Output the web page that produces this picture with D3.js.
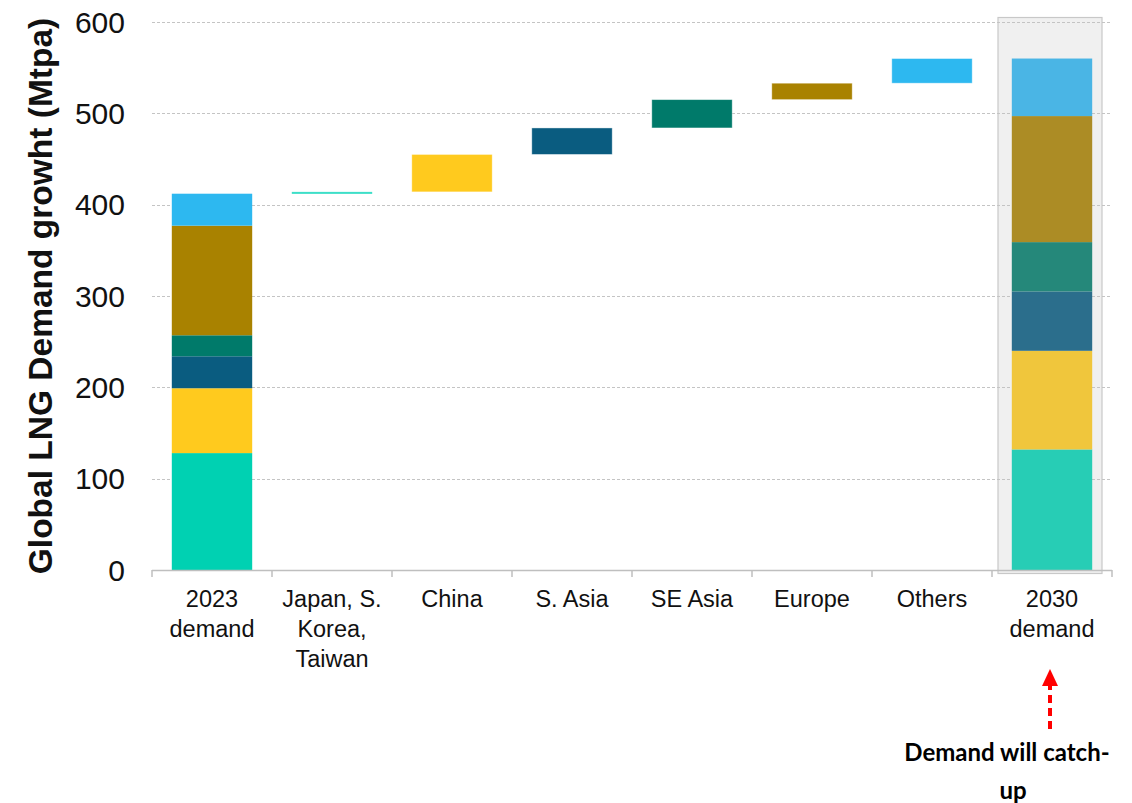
<!DOCTYPE html>
<html>
<head>
<meta charset="utf-8">
<script src="https://cdn.jsdelivr.net/npm/d3@7"></script>
<style>
  html, body { margin: 0; padding: 0; background: #ffffff; }
  svg { display: block; }
</style>
</head>
<body>
<svg id="chart" width="1132" height="803"></svg>
<script>
// Categories along the x axis (multi-line labels split on "\n")
const categories = ["2023\ndemand", "Japan, S.\nKorea,\nTaiwan", "China", "S. Asia", "SE Asia", "Europe", "Others", "2030\ndemand"];
// Regions that make up each stacked demand column, bottom to top
const regions = ["Japan, S. Korea, Taiwan", "China", "S. Asia", "SE Asia", "Europe", "Others"];
// 2023 demand by region (Mtpa)
const demand2023 = [128, 71, 35, 23, 120, 35];
// Growth 2023 -> 2030 by region (Mtpa)
const growth = [2, 41, 29, 31, 18, 27];
// 2030 demand by region (Mtpa)
const demand2030 = [132, 108, 65, 54, 138, 63];
// Y axis ticks
const yTicks = [0, 100, 200, 300, 400, 500, 600];

const colors2023 = ["#00d1b2", "#ffca1e", "#0a5c80", "#007a6a", "#a98200", "#2db8f0"];
const colors2030 = ["#27cdb5", "#f0c63c", "#2b6e8c", "#25887a", "#ac8c25", "#4ab5e5"];

const svg = d3.select("#chart");

const x = d3.scaleBand()
  .domain(categories)
  .range([152, 1112])
  .paddingInner(0.33)
  .paddingOuter(0.165);

const y = d3.scaleLinear().domain([0, 600]).range([570, 22]);

// Highlight panel behind the 2030 column
const last = categories[categories.length - 1];
const cx2030 = x(last) + x.bandwidth() / 2;
svg.append("rect")
  .attr("x", cx2030 - 54)
  .attr("y", 17.5)
  .attr("width", 104)
  .attr("height", 556)
  .attr("fill", "#f0f0f0")
  .attr("stroke", "#c8c8c8")
  .attr("stroke-width", 1.2);

// Horizontal gridlines
svg.append("g")
  .selectAll("line")
  .data(yTicks.filter(d => d > 0))
  .join("line")
  .attr("x1", 152)
  .attr("x2", 1112)
  .attr("y1", d => Math.round(y(d)) + 0.5)
  .attr("y2", d => Math.round(y(d)) + 0.5)
  .attr("stroke", "#c4c4c4")
  .attr("stroke-width", 1)
  .attr("stroke-dasharray", "3,2");

// Stack helper: cumulative segments
function stackSegments(values) {
  let acc = 0;
  return values.map((v, i) => {
    const s = { i, y0: acc, y1: acc + v };
    acc += v;
    return s;
  });
}

// 2023 stacked column
svg.append("g")
  .selectAll("rect")
  .data(stackSegments(demand2023))
  .join("rect")
  .attr("x", x(categories[0]))
  .attr("width", x.bandwidth())
  .attr("y", d => y(d.y1))
  .attr("height", d => y(d.y0) - y(d.y1))
  .attr("fill", d => colors2023[d.i]);

// Floating growth bars (waterfall)
const start2023 = d3.sum(demand2023);
let running = start2023;
const steps = growth.map((g, i) => {
  const s = { i, cat: categories[i + 1], y0: running, y1: running + g };
  running += g;
  return s;
});
svg.append("g")
  .selectAll("rect")
  .data(steps)
  .join("rect")
  .attr("x", d => x(d.cat))
  .attr("width", x.bandwidth())
  .attr("y", d => y(d.y1))
  .attr("height", d => Math.max(2, y(d.y0) - y(d.y1)))
  .attr("fill", d => d.i === 0 ? "#3ddfc8" : colors2023[d.i])
  .attr("stroke", d => d.i === 0 ? "none" : "rgba(255,255,255,0.5)")
  .attr("stroke-width", 0.8);

// 2030 stacked column
svg.append("g")
  .selectAll("rect")
  .data(stackSegments(demand2030))
  .join("rect")
  .attr("x", x(last))
  .attr("width", x.bandwidth())
  .attr("y", d => y(d.y1))
  .attr("height", d => y(d.y0) - y(d.y1))
  .attr("fill", d => colors2030[d.i]);

// X axis line with ticks at band boundaries
const axisG = svg.append("g");
axisG.append("line")
  .attr("x1", 152).attr("x2", 1112)
  .attr("y1", 570.5).attr("y2", 570.5)
  .attr("stroke", "#bfbfbf").attr("stroke-width", 1.5);
const boundaries = categories.map(c => x(c) - x.step() * x.paddingInner() / 2).concat([1112]);
boundaries[0] = 152;
axisG.selectAll("line.tick")
  .data(boundaries)
  .join("line")
  .attr("class", "tick")
  .attr("x1", d => d).attr("x2", d => d)
  .attr("y1", 570).attr("y2", 577)
  .attr("stroke", "#bfbfbf").attr("stroke-width", 1.5);

// X category labels
const xl = svg.append("g")
  .attr("font-family", "'Liberation Sans', Arial, sans-serif")
  .attr("font-size", "23.5px")
  .attr("fill", "#111")
  .attr("text-anchor", "middle");
categories.forEach(c => {
  const t = xl.append("text")
    .attr("x", x(c) + x.bandwidth() / 2)
    .attr("y", 607);
  c.split("\n").forEach((line, k) => {
    t.append("tspan")
      .attr("x", x(c) + x.bandwidth() / 2)
      .attr("dy", k === 0 ? 0 : 30)
      .text(line);
  });
});

// Y tick labels
svg.append("g")
  .attr("font-family", "'Liberation Sans', Arial, sans-serif")
  .attr("font-size", "30px")
  .attr("fill", "#111")
  .attr("text-anchor", "end")
  .selectAll("text")
  .data(yTicks)
  .join("text")
  .attr("x", 125)
  .attr("y", d => y(d))
  .attr("dy", "0.36em")
  .text(d => d);

// Y axis title
svg.append("text")
  .attr("transform", `translate(52, 296) rotate(-90)`)
  .attr("text-anchor", "middle")
  .attr("font-family", "'Liberation Sans', Arial, sans-serif")
  .attr("font-weight", "bold")
  .attr("font-size", "33.5px")
  .attr("fill", "#111")
  .text("Global LNG Demand growht (Mtpa)");

// Annotation arrow under the 2030 column
const ax = 1050;
svg.append("line")
  .attr("x1", ax).attr("x2", ax)
  .attr("y1", 729).attr("y2", 684)
  .attr("stroke", "#ff0000")
  .attr("stroke-width", 4)
  .attr("stroke-dasharray", "8,5");
svg.append("path")
  .attr("d", d3.line()([[ax - 8, 686], [ax, 669], [ax + 8, 686]]) + "Z")
  .attr("fill", "#ff0000");

const note = svg.append("text")
  .attr("font-family", "Lato, 'Open Sans', sans-serif")
  .attr("font-weight", "bold")
  .attr("font-size", "24px")
  .attr("fill", "#000")
  .attr("text-anchor", "middle");
note.append("tspan").attr("x", 1007).attr("y", 761).text("Demand will catch-");
note.append("tspan").attr("x", 1013).attr("y", 799).text("up");
</script>
</body>
</html>
